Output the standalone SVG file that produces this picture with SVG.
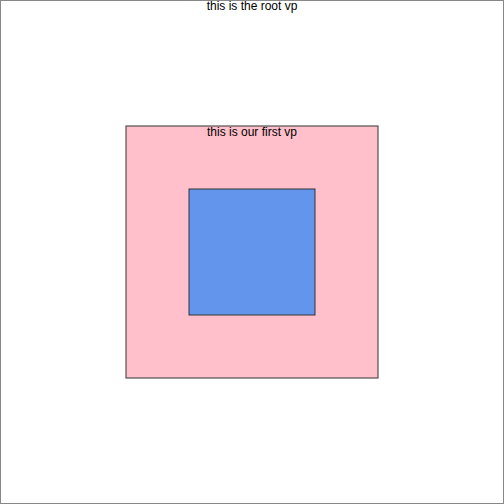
<svg xmlns="http://www.w3.org/2000/svg" width="504" height="504" viewBox="0 0 504 504">
<style>
text{font-family:"Liberation Sans",Arial,sans-serif;font-size:12px;fill:#000;text-anchor:middle}
rect{stroke:#333;stroke-width:1}
</style>
<rect x="0" y="0" width="504" height="504" fill="#fff" stroke="none"/>
<g id="root">
<rect x="0.5" y="0.5" width="503" height="503" fill="none" style="stroke:#888"/>
<text x="252" y="9.5">this is the root vp</text>
</g>
<g id="first-vp">
<rect x="126" y="126" width="252" height="252" fill="#FFC0CB"/>
<text x="252" y="135.5">this is our first vp</text>
</g>
<g id="inner-vp">
<rect x="189" y="189" width="126" height="126" fill="#6495ED"/>
</g>
<g id="connectors"/>
</svg>
